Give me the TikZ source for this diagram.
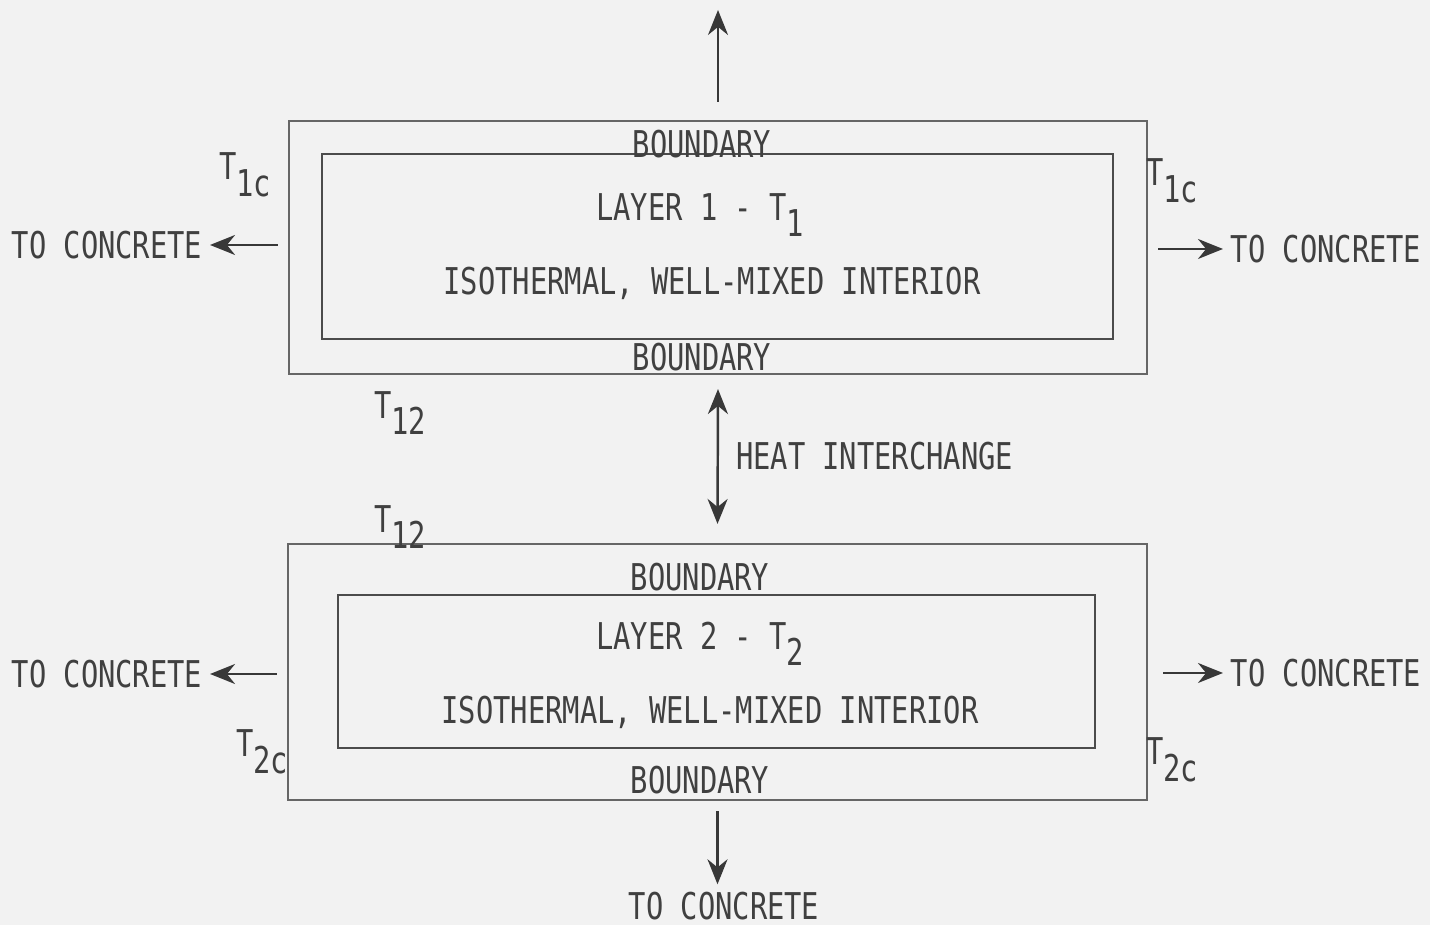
\documentclass[tikz,border=0pt]{standalone}
\usepackage{fontspec}
\setmonofont[FakeStretch=0.78]{DejaVu Sans Mono}
\usepackage{tikz}
\usetikzlibrary{arrows.meta}

\newcommand{\lsub}[1]{\raisebox{-0.45em}{#1}}

\begin{document}
\begin{tikzpicture}[
  font=\ttfamily\fontsize{10.5}{12}\selectfont,
  >={Stealth[length=2.5mm, width=2mm]},
  outerbox/.style={
    draw=black!60,
    line width=0.6pt,
    inner sep=0pt
  },
  innerbox/.style={
    draw=black!70,
    line width=0.7pt,
    inner sep=0pt
  },
  lbl/.style={text=black!75, inner sep=2pt},
  arr/.style={
    ->,
    draw=black!78,
    line width=0.7pt
  }
]

\fill[black!5] (0,0) rectangle (14.3,9.25);
\useasboundingbox (0,0) rectangle (14.3,9.25);

% Layer 1
\node[outerbox, minimum width=8.58cm, minimum height=2.53cm]
  (out1) at (7.18,6.775) {};
\node[innerbox, minimum width=7.91cm, minimum height=1.85cm]
  (in1) at (7.175,6.785) {};

\node[lbl] (bnd1t) at (7.02,7.81) {BOUNDARY};
\node[lbl] (bnd1b) at (7.02,5.68) {BOUNDARY};
\node[lbl] (lay1) at (7.00,7.10) {LAYER 1 - T\lsub{1}};
\node[lbl] (iso1) at (7.12,6.42) {ISOTHERMAL, WELL-MIXED INTERIOR};

\node[lbl] (t1cl) at (2.45,7.50) {T\lsub{1c}};
\node[lbl] (t1cr) at (11.72,7.44) {T\lsub{1c}};
\node[lbl] (t12a) at (4.00,5.12) {T\lsub{12}};

\node[lbl] (con1l) at (1.07,6.80) {TO CONCRETE};
\node[lbl] (con1r) at (13.26,6.76) {TO CONCRETE};

\coordinate (up) at (7.18,9.15);
\draw[arr] ([xshift=-1mm]out1.west |- con1l) -- (con1l);
\draw[arr] ([xshift=1mm]out1.east |- con1r) -- (con1r);
\draw[arr] ([yshift=1.8mm]out1.north) -- (up);

% Layer 2
\node[outerbox, minimum width=8.59cm, minimum height=2.56cm]
  (out2) at (7.175,2.53) {};
\node[innerbox, minimum width=7.57cm, minimum height=1.53cm]
  (in2) at (7.165,2.535) {};

\node[lbl] (bnd2t) at (7.00,3.48) {BOUNDARY};
\node[lbl] (bnd2b) at (7.00,1.45) {BOUNDARY};
\node[lbl] (lay2) at (7.00,2.81) {LAYER 2 - T\lsub{2}};
\node[lbl] (iso2) at (7.10,2.13) {ISOTHERMAL, WELL-MIXED INTERIOR};

\node[lbl] (t12b) at (4.00,3.98) {T\lsub{12}};
\node[lbl] (t2cl) at (2.62,1.73) {T\lsub{2c}};
\node[lbl] (t2cr) at (11.72,1.65) {T\lsub{2c}};

\node[lbl] (con2l) at (1.07,2.51) {TO CONCRETE};
\node[lbl] (con2r) at (13.26,2.52) {TO CONCRETE};
\node[lbl] (con2b) at (7.24,0.19) {TO CONCRETE};

\draw[arr] ([xshift=-1mm]out2.west |- con2l) -- (con2l);
\draw[arr] ([xshift=1.5mm]out2.east |- con2r) -- (con2r);
\draw[arr] ([yshift=-1mm]out2.south) -- (out2.south |- con2b.north);

% Heat interchange
\draw[arr, <->] ([yshift=-1.4mm]out1.south) --
  node[lbl, right=1mm] (heat) {HEAT INTERCHANGE}
  ([yshift=1.9mm]out2.north);

\end{tikzpicture}
\end{document}
